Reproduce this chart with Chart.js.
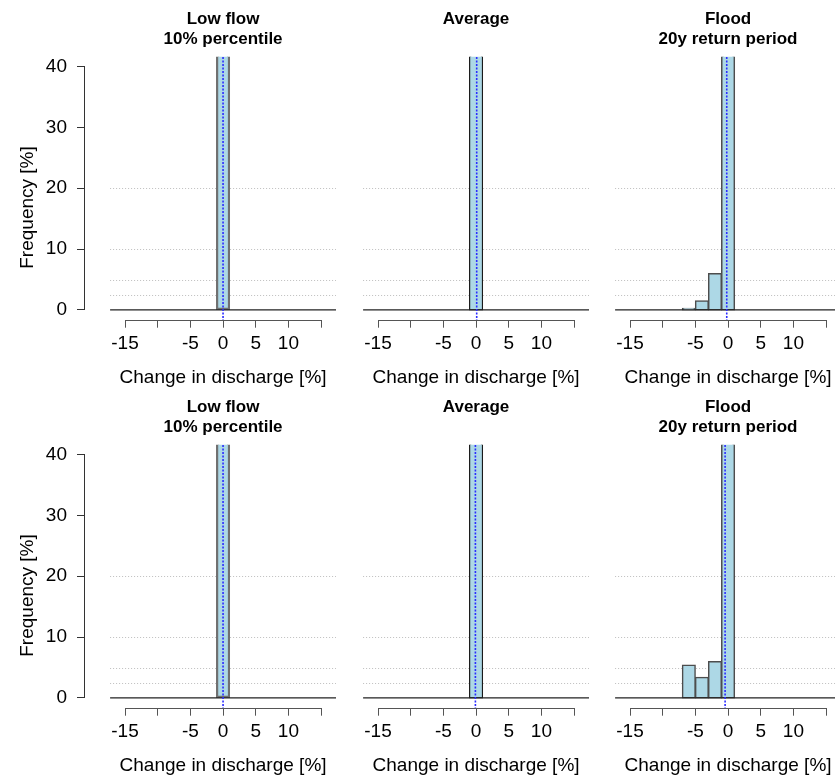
<!DOCTYPE html>
<html><head><meta charset="utf-8">
<script src="https://cdn.jsdelivr.net/npm/chart.js@4.4.1/dist/chart.umd.min.js"></script>
<style>
html,body{margin:0;padding:0;background:#fff;overflow:hidden;width:835px;height:782px;position:relative;}
canvas{position:absolute;}
</style></head><body>
<script>
// ---- data ----
const binCenters = [-8, -6, -4, -2, 0, 2, 4, 6, 8];          // histogram bins of width 2
const lowFlowTop    = [0, 0, 0, 0, 100, 0, 0, 0, 0];
const averageTop    = [0, 0, 0, 0, 100, 0, 0, 0, 0];
const floodTop      = [0, 0.3, 1.5, 6.0, 92.2, 0, 0, 0, 0];
const lowFlowBottom = [0, 0, 0, 0, 100, 0, 0, 0, 0];
const averageBottom = [0, 0, 0, 0, 100, 0, 0, 0, 0];
const floodBottom   = [0, 5.4, 3.4, 6.0, 85.2, 0, 0, 0, 0];
const meanTop    = [0.0, 0.1, -0.2];
const meanBottom = [0.0, -0.1, -0.45];
const panelTitles = [['Low flow', '10% percentile'], ['Average'], ['Flood', '20y return period']];
const xTicks = [-15, -10, -5, 0, 5, 10, 15];
const xTickLabels = ['-15', '', '-5', '0', '5', '10', ''];
const yTicks = [0, 10, 20, 30, 40];
const gridLevels = [2.5, 5, 10, 20];
const xLabel = 'Change in discharge [%]';
const yLabel = 'Frequency [%]';

// ---- styles ----
const FONT = '"Liberation Sans", Arial, sans-serif';
const borderColors = ['#707070', '#1a1a1a', '#4d4d4d'];
const borderWidths = [2.2, 1.2, 1.5];
const colLeft = [0, 253, 505];
const rowTop = [0, 388];
const plotMin = -17.28, plotMax = 17.28;

const decor = {
  id: 'decor',
  beforeDatasetsDraw(chart, args, o) {
    const {ctx, chartArea: a, scales: {x, y}} = chart;
    ctx.save();
    ctx.strokeStyle = '#bebebe'; ctx.lineWidth = 1; ctx.setLineDash([1, 2]);
    const xl = x.getPixelForValue(plotMin), xr = x.getPixelForValue(plotMax);
    gridLevels.forEach(v => {
      const py = Math.round(y.getPixelForValue(v)) + 0.5;
      ctx.beginPath(); ctx.moveTo(xl, py); ctx.lineTo(xr, py); ctx.stroke();
    });
    ctx.restore();
  },
  afterDatasetsDraw(chart, args, o) {
    const {ctx, chartArea: a, scales: {x, y}} = chart;
    ctx.save();
    const xl = x.getPixelForValue(plotMin), xr = x.getPixelForValue(plotMax);
    // baseline at 0
    ctx.strokeStyle = '#222'; ctx.lineWidth = 1.2;
    const y0 = y.getPixelForValue(0);
    ctx.beginPath(); ctx.moveTo(xl, y0); ctx.lineTo(xr, y0); ctx.stroke();
    // mean line
    ctx.strokeStyle = '#2b2bff'; ctx.lineWidth = 1.6; ctx.setLineDash([2, 1.5]);
    const mx = x.getPixelForValue(o.mean);
    ctx.beginPath(); ctx.moveTo(mx, Math.round(a.top)); ctx.lineTo(mx, Math.round(a.bottom)); ctx.stroke();
    ctx.setLineDash([]);
    // x axis line
    ctx.strokeStyle = '#555'; ctx.lineWidth = 1;
    const yb = Math.round(a.bottom) + 0.5;
    ctx.beginPath(); ctx.moveTo(x.getPixelForValue(xTicks[0]), yb); ctx.lineTo(x.getPixelForValue(xTicks[xTicks.length - 1]), yb); ctx.stroke();
    if (o.showY) {
      ctx.strokeStyle = '#333';
      const ax = Math.round(a.left) - 0.5;
      ctx.beginPath(); ctx.moveTo(ax, y.getPixelForValue(yTicks[0])); ctx.lineTo(ax, y.getPixelForValue(yTicks[yTicks.length - 1])); ctx.stroke();
    }
    ctx.restore();
  },
  afterDraw(chart, args, o) {
    const {ctx, scales: {x}} = chart;
    const cx = x.getPixelForValue(0);
    ctx.save();
    ctx.fillStyle = '#000'; ctx.textAlign = 'center'; ctx.textBaseline = 'alphabetic';
    ctx.font = 'bold 17px ' + FONT;
    o.title.forEach((t, i) => ctx.fillText(t, cx, 23.5 + i * 20));
    ctx.font = '19px ' + FONT;
    ctx.fillText(xLabel, cx, 383);
    if (o.showY) {
      ctx.translate(32.5, 207.5); ctx.rotate(-Math.PI / 2);
      ctx.fillText(yLabel, 0, 0);
    }
    ctx.restore();
  }
};

function makePanel(row, col, values, mean) {
  const cv = document.createElement('canvas');
  cv.width = 340; cv.height = 388;
  cv.style.left = colLeft[col] + 'px'; cv.style.top = rowTop[row] + 'px';
  document.body.appendChild(cv);
  const showY = col === 0;
  new Chart(cv, {
    type: 'bar',
    data: { datasets: [{
      data: binCenters.map((c, i) => ({x: c, y: values[i]})),
      backgroundColor: '#add8e6', borderColor: borderColors[col], borderWidth: borderWidths[col],
      borderSkipped: false, barPercentage: 1, categoryPercentage: 1, clip: 0, inflateAmount: 0.5
    }]},
    options: {
      responsive: false, animation: false, events: [],
      layout: { padding: { left: 0, right: 4, top: 56.7, bottom: 0 } },
      plugins: { legend: {display: false}, tooltip: {enabled: false}, title: {display: false},
        decor: { mean: mean, title: panelTitles[col], showY: showY } },
      scales: {
        x: { type: 'linear', min: -21.12, max: 17.28, offset: false,
          afterBuildTicks: s => { s.ticks = xTicks.map(v => ({value: v})); },
          afterFit: s => { s.height = 68.3; },
          border: {display: false},
          grid: {offset: false, drawOnChartArea: false, drawTicks: true, tickLength: 8, color: '#555', tickColor: '#555'},
          ticks: {autoSkip: false, maxRotation: 0, minRotation: 0, padding: 5, color: '#000', font: {family: FONT, size: 19},
            callback: (v, i) => xTickLabels[i]} },
        y: { min: -1.6, max: 41.6,
          afterBuildTicks: s => { s.ticks = yTicks.map(v => ({value: v})); },
          afterFit: s => { s.width = 85; },
          border: {display: false},
          grid: {display: showY, drawOnChartArea: false, drawTicks: true, tickLength: 8, color: '#333', tickColor: '#333'},
          ticks: {display: showY, padding: 10, color: '#000', font: {family: FONT, size: 19}} }
      }
    },
    plugins: [decor]
  });
}

makePanel(0, 0, lowFlowTop, meanTop[0]);
makePanel(0, 1, averageTop, meanTop[1]);
makePanel(0, 2, floodTop, meanTop[2]);
makePanel(1, 0, lowFlowBottom, meanBottom[0]);
makePanel(1, 1, averageBottom, meanBottom[1]);
makePanel(1, 2, floodBottom, meanBottom[2]);
</script>
</body></html>
